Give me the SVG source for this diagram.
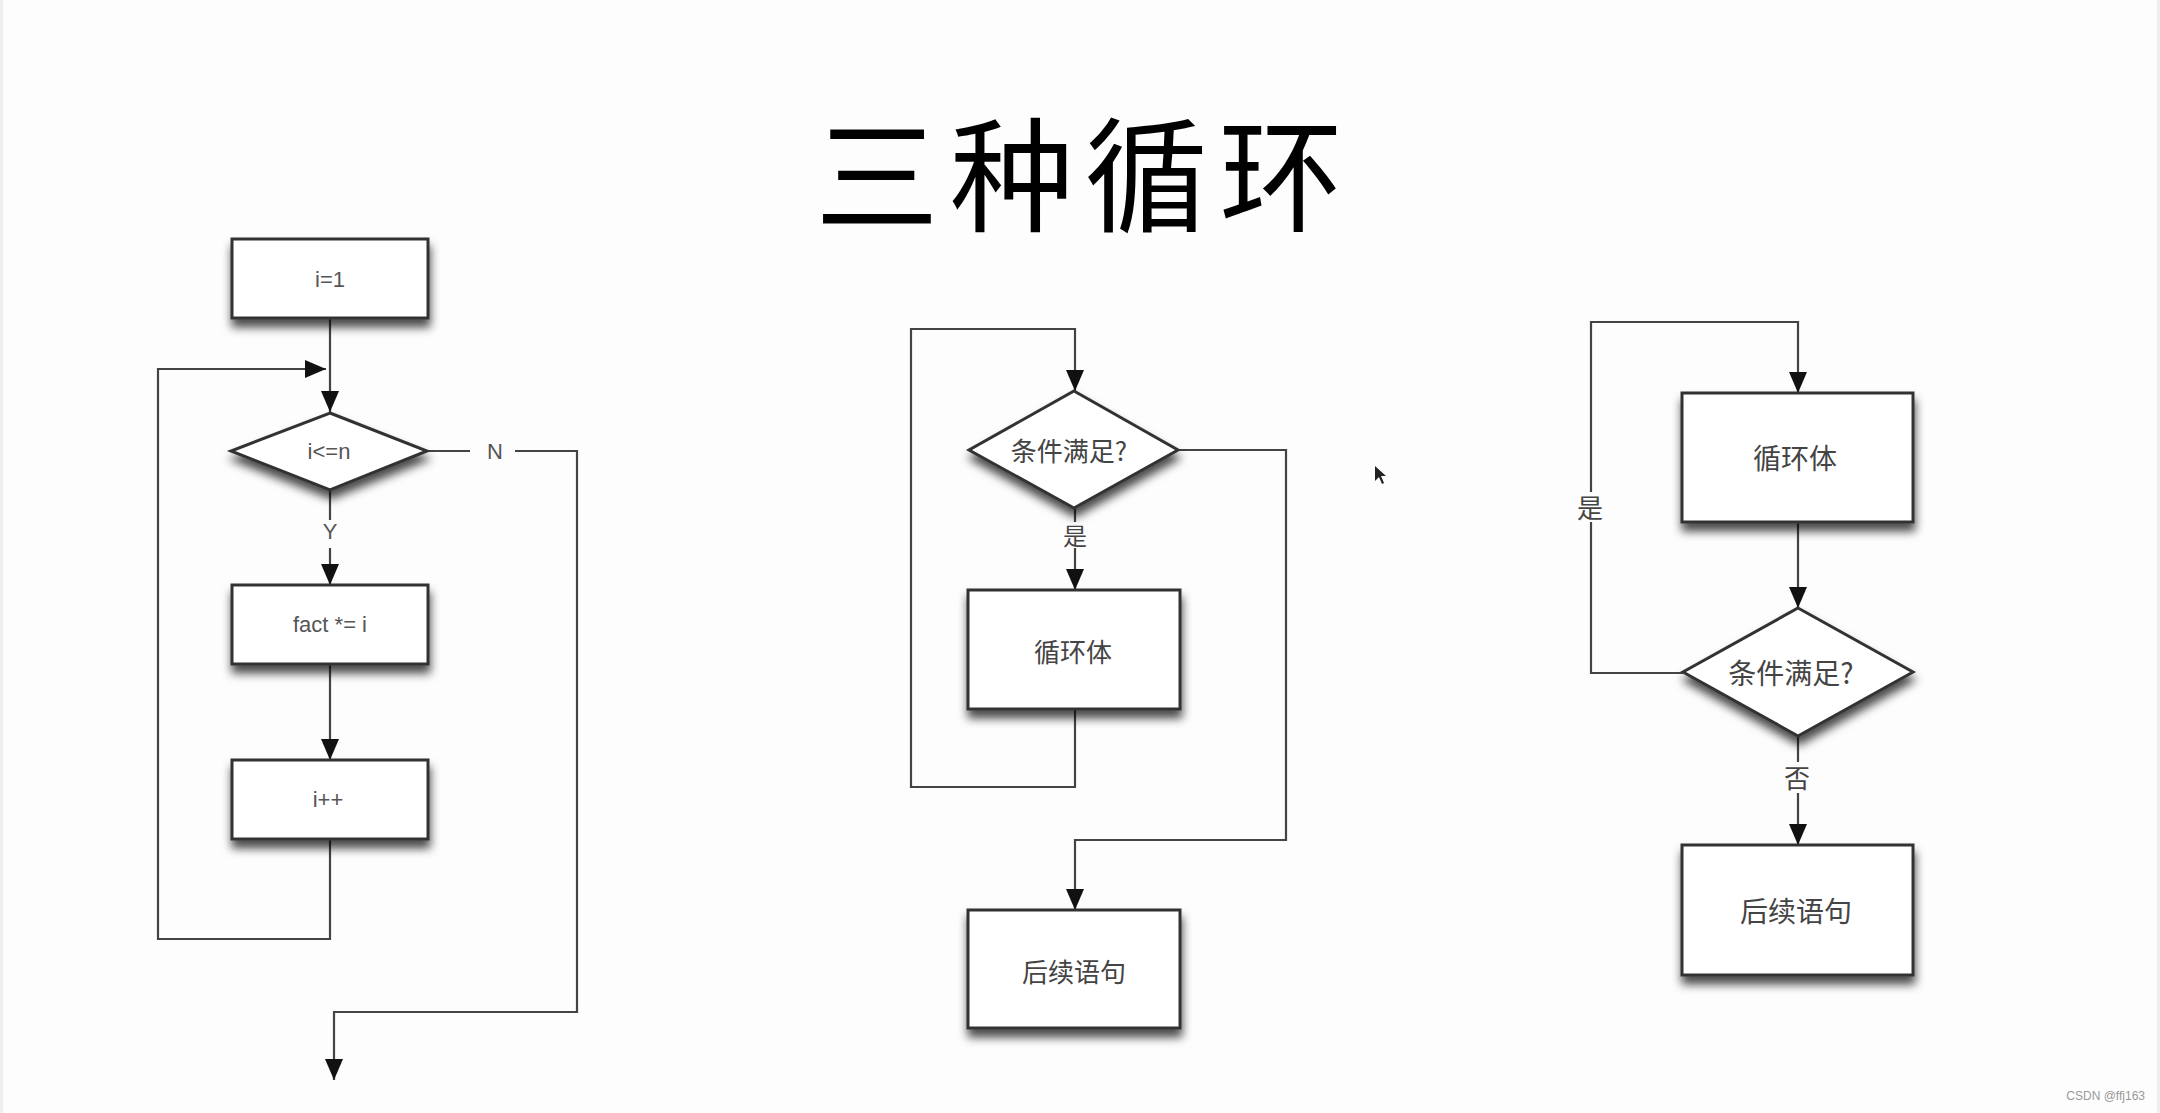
<svg xmlns="http://www.w3.org/2000/svg" width="2160" height="1113" viewBox="0 0 2160 1113">
<defs>
<filter id="sh" x="-20%" y="-20%" width="140%" height="150%">
<feDropShadow dx="1" dy="8" stdDeviation="5" flood-color="#000" flood-opacity="0.7"/>
</filter>
<marker id="ah" markerUnits="userSpaceOnUse" markerWidth="22" markerHeight="18" refX="21" refY="9" orient="auto">
<path d="M0,0 L21,9 L0,18 z" fill="#111"/>
</marker>
<style>
.node{fill:#fff;stroke:#333;stroke-width:3;filter:url(#sh)}
.conn{fill:none;stroke:#444;stroke-width:2.2}
.arr{marker-end:url(#ah)}
.en{font-family:"Century Gothic","URW Gothic","Liberation Sans",sans-serif;fill:#555;font-size:22px;text-anchor:middle;dominant-baseline:central}
.cn{font-family:"Noto Sans CJK SC","Noto Sans",sans-serif;fill:#444;text-anchor:middle;dominant-baseline:central}
</style>
</defs>
<rect x="0" y="0" width="2160" height="1113" fill="#fdfdfd"/>
<rect x="0" y="0" width="3" height="1113" fill="#eee"/>
<rect x="2157" y="0" width="3" height="1113" fill="#eee"/>

<text x="1079" y="222" font-family="Noto Sans CJK SC, sans-serif" font-size="124" fill="#000" text-anchor="middle" textLength="528" lengthAdjust="spacing">三种循环</text>

<g id="connectors">
<path class="conn arr" d="M330,318 V412"/>
<path class="conn arr" d="M330,839 V939 H158 V369 H326"/>
<path class="conn" d="M427,451 H470"/>
<path class="conn arr" d="M515,451 H577 V1012 H334 V1080"/>
<path class="conn" d="M330,490 V520"/>
<path class="conn arr" d="M330,548 V585"/>
<path class="conn arr" d="M330,664 V760"/>
<text class="en" x="495" y="451" font-size="24">N</text>
<text class="en" x="330" y="531" font-size="24">Y</text>

<path class="conn arr" d="M1075,709 V787 H911 V329 H1075 V391"/>
<path class="conn arr" d="M1178,450 H1286 V840 H1075 V910"/>
<path class="conn" d="M1075,508 V522"/>
<path class="conn arr" d="M1075,548 V590"/>
<text class="cn" x="1075" y="534" font-size="24">是</text>

<path class="conn" d="M1683,673 H1591 V522"/>
<path class="conn arr" d="M1591,492 V322 H1798 V393"/>
<path class="conn arr" d="M1798,522 V608"/>
<path class="conn" d="M1798,736 V762"/>
<path class="conn arr" d="M1798,793 V845"/>
<text class="cn" x="1590" y="506" font-size="26">是</text>
<text class="cn" x="1797" y="776" font-size="26">否</text>
</g>

<g id="n1"><rect class="node" x="232" y="239" width="196" height="79"/><text class="en" x="330" y="279">i=1</text></g>
<g id="n2"><polygon class="node" points="330,413 427,451 330,490 231,451"/><text class="en" x="329" y="451">i&lt;=n</text></g>
<g id="n3"><rect class="node" x="232" y="585" width="196" height="79"/><text class="en" x="330" y="624">fact *= i</text></g>
<g id="n4"><rect class="node" x="232" y="760" width="196" height="79"/><text class="en" x="328" y="799">i++</text></g>

<g id="m1"><polygon class="node" points="1074,391 1178,450 1074,508 969,450"/><text class="cn" x="1069" y="449" font-size="26">条件满足?</text></g>
<g id="m2"><rect class="node" x="968" y="590" width="212" height="119"/><text class="cn" x="1073" y="650" font-size="26">循环体</text></g>
<g id="m3"><rect class="node" x="968" y="910" width="212" height="118"/><text class="cn" x="1074" y="970" font-size="26">后续语句</text></g>

<g id="r1"><rect class="node" x="1682" y="393" width="231" height="129"/><text class="cn" x="1795" y="457" font-size="28">循环体</text></g>
<g id="r2"><polygon class="node" points="1798,608 1913,672 1798,736 1683,672"/><text class="cn" x="1791" y="672" font-size="28">条件满足?</text></g>
<g id="r3"><rect class="node" x="1682" y="845" width="231" height="130"/><text class="cn" x="1796" y="910" font-size="28">后续语句</text></g>

<polygon points="1375,466 1375,481 1379,477 1382,484 1384,483 1381,476 1386,476 z" fill="#222"/>
<text x="2145" y="1100" font-family="Liberation Sans, sans-serif" font-size="12" fill="#999" text-anchor="end">CSDN @ffj163</text>
</svg>
